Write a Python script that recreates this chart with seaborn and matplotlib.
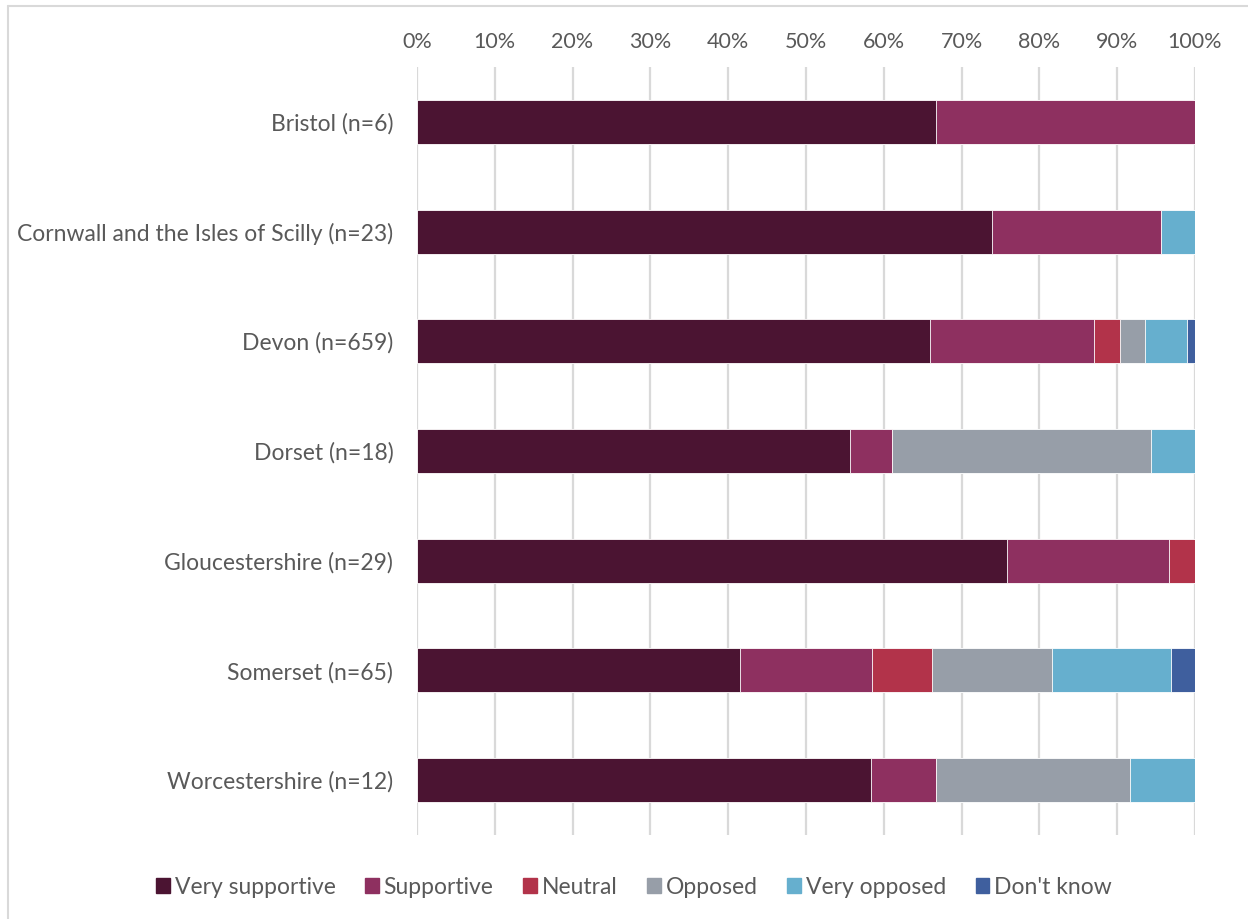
import matplotlib.pyplot as plt
import matplotlib.patches as mpatches
import numpy as np
import pandas as pd
import seaborn as sns

areas = ["Bristol (n=6)", "Cornwall and the Isles of Scilly (n=23)", "Devon (n=659)",
         "Dorset (n=18)", "Gloucestershire (n=29)", "Somerset (n=65)", "Worcestershire (n=12)"]
responses = ["Very supportive", "Supportive", "Neutral", "Opposed", "Very opposed", "Don't know"]
colors = ["#4B1432", "#8E3060", "#B2334A", "#979EA8", "#66AFCE", "#3F5F9E"]

# percentages
very_supportive = [66.7, 73.9, 65.9, 55.6, 75.9, 41.5, 58.3]
supportive      = [33.3, 21.7, 21.1, 5.5, 20.7, 17.0, 8.4]
neutral         = [0.0, 0.0, 3.4, 0.0, 3.4, 7.7, 0.0]
opposed         = [0.0, 0.0, 3.2, 33.3, 0.0, 15.4, 25.0]
very_opposed    = [0.0, 4.4, 5.4, 5.6, 0.0, 15.3, 8.3]
dont_know       = [0.0, 0.0, 1.0, 0.0, 0.0, 3.1, 0.0]

df = pd.DataFrame({"Area": areas, "Very supportive": very_supportive, "Supportive": supportive,
                   "Neutral": neutral, "Opposed": opposed, "Very opposed": very_opposed,
                   "Don't know": dont_know})
cum = df[responses].cumsum(axis=1)
cum["Area"] = areas

sns.set_theme(style="white")
plt.rcParams['font.family'] = ['Lato', 'DejaVu Sans']
txt = "#595959"

fig = plt.figure(figsize=(12.48, 9.19), dpi=100)
ax = fig.add_axes([0.3341, 0.0914, 0.9575 - 0.3341, 0.9271 - 0.0914])

# draw cumulative totals from the outermost segment inwards
for resp, col in zip(responses[::-1], colors[::-1]):
    sns.barplot(data=cum, x=resp, y="Area", order=areas, color=col, width=0.4,
                edgecolor="white", linewidth=0.6, saturation=1, ax=ax)

ax.set_xlim(0, 100)
ax.set_xticks(np.arange(0, 101, 10))
ax.set_xticklabels([f"{v}%" for v in range(0, 101, 10)])
ax.xaxis.tick_top()
ax.tick_params(axis="x", length=0, pad=11, labelsize=15.5, labelcolor=txt)
ax.tick_params(axis="y", length=0, pad=17, labelsize=16.5, labelcolor=txt)
ax.set_xlabel("")
ax.set_ylabel("")
ax.set_axisbelow(True)
ax.grid(axis="x", color="#d9d9d9", linewidth=1.6)
ax.grid(axis="y", visible=False)
for s in ax.spines.values():
    s.set_visible(False)

handles = [mpatches.Patch(color=c, label=r) for r, c in zip(responses, colors)]
fig.legend(handles=handles, loc="center", bbox_to_anchor=(0.508, 1 - 887 / 919), ncol=6,
           frameon=False, fontsize=16.5, labelcolor=txt, handlelength=0.6, handleheight=0.6,
           handletextpad=0.2, columnspacing=1.3)

# light frame around the chart area
fig.add_artist(plt.Line2D([8 / 1248, 8 / 1248], [0, 1 - 6 / 919], transform=fig.transFigure,
                          color="#d9d9d9", linewidth=1.5))
fig.add_artist(plt.Line2D([8 / 1248, 1], [1 - 6 / 919, 1 - 6 / 919], transform=fig.transFigure,
                          color="#d9d9d9", linewidth=1.5))

fig.savefig("out.png", dpi=100)
